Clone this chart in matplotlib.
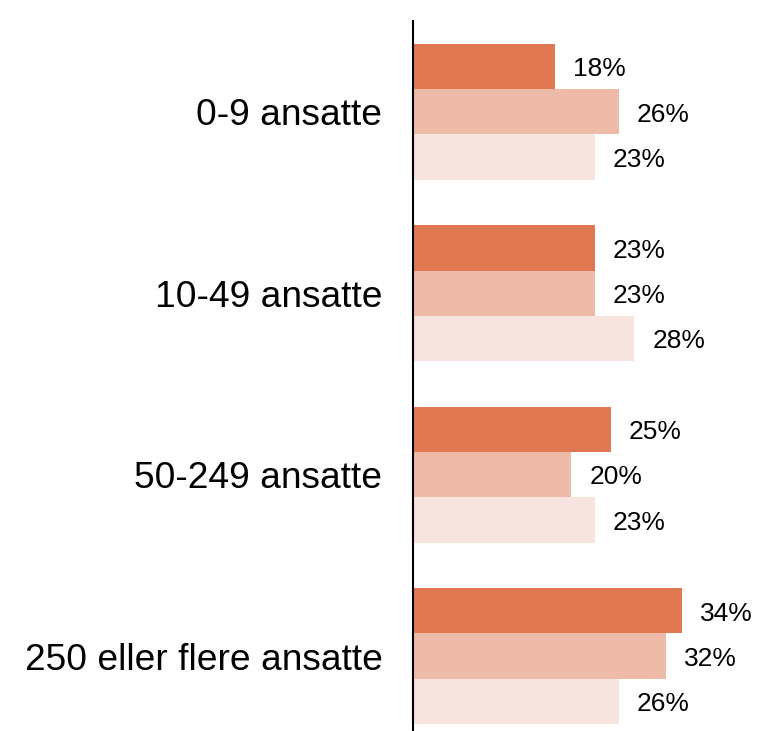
import matplotlib
matplotlib.use("Agg")
import matplotlib.pyplot as plt
import numpy as np

# ========== data ==========
kategorier = ["0-9 ansatte", "10-49 ansatte", "50-249 ansatte", "250 eller flere ansatte"]
serie_1 = [18, 23, 25, 34]
serie_2 = [26, 23, 20, 32]
serie_3 = [23, 28, 23, 26]

farger = ["#E07852", "#EEBBA8", "#F8E4DE"]

plt.rcParams['font.family'] = ['Liberation Sans', 'DejaVu Sans']

fig = plt.figure(figsize=(7.61, 7.31), dpi=100)
ax = fig.add_axes([413 / 761, 0, 348 / 761, 710 / 731])

grupper = np.arange(len(kategorier)) * 4
for k, (verdier, farge) in enumerate(zip([serie_1, serie_2, serie_3], farger)):
    y = grupper + k
    ax.barh(y, verdier, height=1.0, color=farge)
    for yi, v in zip(y, verdier):
        ax.annotate(f"{v}%", (v, yi), xytext=(13, -2), textcoords="offset points",
                    va="center", ha="left", fontsize=19, color="black")

ax.set_xlim(0, 44)
ax.set_ylim(14.65, -1.0)
ax.set_yticks(grupper + 1)
ax.set_yticklabels(kategorier, fontsize=26.7)
ax.tick_params(axis="y", length=0, pad=22)
ax.set_xticks([])

for s in ["top", "right", "bottom"]:
    ax.spines[s].set_visible(False)
ax.spines["left"].set_linewidth(1.5)
ax.spines["left"].set_color("black")

fig.savefig("out.png", dpi=100)
